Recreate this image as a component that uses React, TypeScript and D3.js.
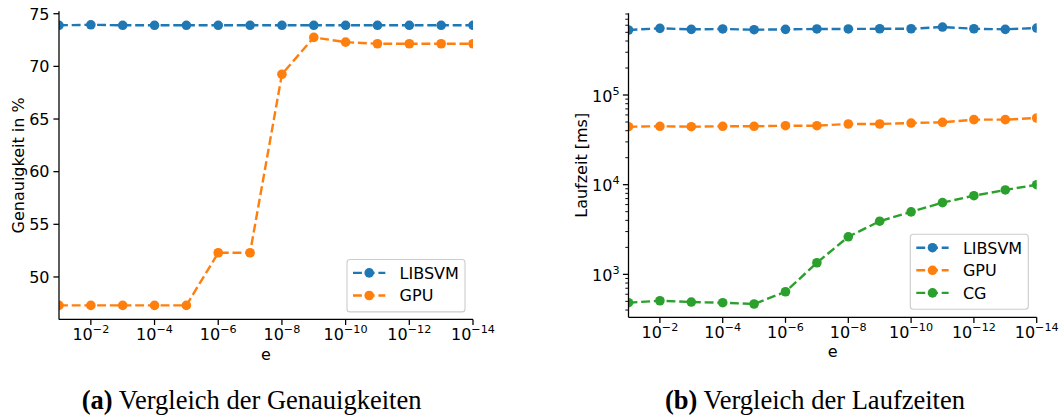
import * as d3 from 'd3';

// x values (tolerance e), one point per decade
const eValues = [1e-1, 1e-2, 1e-3, 1e-4, 1e-5, 1e-6, 1e-7, 1e-8, 1e-9, 1e-10, 1e-11, 1e-12, 1e-13, 1e-14];
const xTickExps = [-2, -4, -6, -8, -10, -12, -14];

// (a) accuracy in %
const accLibsvm = [73.9, 73.95, 73.9, 73.9, 73.9, 73.9, 73.9, 73.9, 73.9, 73.9, 73.9, 73.9, 73.9, 73.9];
const accGpu = [47.3, 47.3, 47.3, 47.3, 47.3, 52.3, 52.3, 69.25, 72.75, 72.3, 72.15, 72.15, 72.15, 72.15];
const accTicks = [50, 55, 60, 65, 70, 75];

// (b) runtime in ms
const timeLibsvm = [531000, 554000, 540000, 545000, 535000, 540000, 545000, 545000, 548000, 548000, 573000, 548000, 540000, 558000];
const timeGpu = [44300, 44800, 44300, 44800, 44800, 45500, 45500, 47500, 47500, 48700, 49600, 53100, 53100, 55400];
const timeCg = [483, 508, 491, 483, 467, 640, 1347, 2624, 3917, 4977, 6310, 7540, 8730, 10000];
const timeTickExps = [3, 4, 5];

const BLUE = '#1f77b4';
const ORANGE = '#ff7f0e';
const GREEN = '#2ca02c';
const FONT = 'DejaVu Sans';
const FS = 16;
const TICK = 5.6;
const MINOR = 3.2;
const AX = 1.28;
const DASH = '8.9 3.8';

type Series = { name: string; color: string; values: number[] };

function Pow({ x, y, exp, anchor }: { x: number; y: number; exp: number; anchor: string }) {
  return (
    <text x={x} y={y} textAnchor={anchor} fontFamily={FONT} fontSize={FS} fill="#000">
      10
      <tspan dy={-7} fontSize={11.2}>{exp < 0 ? '\u2212' + Math.abs(exp) : String(exp)}</tspan>
    </text>
  );
}

function Legend({ series, right, bottom }: { series: Series[]; right: number; bottom: number }) {
  const w = 118;
  const rowH = 22.6;
  const h = 52.4 + (series.length - 2) * rowH;
  const left = right - w;
  const top = bottom - h;
  return (
    <g>
      <rect x={left} y={top} width={w} height={h} rx={3} fill="rgba(255,255,255,0.8)" stroke="#cccccc" strokeWidth={1.1} />
      {series.map((s, i) => {
        const cy = top + 13.4 + i * rowH;
        return (
          <g key={s.name}>
            <line x1={left + 6} x2={left + 38.3} y1={cy} y2={cy} stroke={s.color} strokeWidth={2.4} strokeDasharray={DASH} />
            <circle cx={left + 22.2} cy={cy} r={4.8} fill={s.color} />
            <text x={left + 52.6} y={cy + 5.8} fontFamily={FONT} fontSize={FS} fill="#000">{s.name}</text>
          </g>
        );
      })}
    </g>
  );
}

function Lines({ series, x, y, clip }: { series: Series[]; x: d3.ScaleLogarithmic<number, number>; y: (v: number) => number; clip: string }) {
  return (
    <g clipPath={`url(#${clip})`}>
      {series.map((s) => {
        const line = d3.line<number>().x((_, i) => x(eValues[i])).y((v) => y(v));
        return (
          <g key={s.name}>
            <path d={line(s.values) || ''} fill="none" stroke={s.color} strokeWidth={2.4} strokeDasharray={DASH} />
            {s.values.map((v, i) => (
              <circle key={i} cx={x(eValues[i])} cy={y(v)} r={4.8} fill={s.color} />
            ))}
          </g>
        );
      })}
    </g>
  );
}

function XAxis({ x, y0 }: { x: d3.ScaleLogarithmic<number, number>; y0: number }) {
  const [r0, r1] = x.range();
  return (
    <g>
      <line x1={r0} x2={r1} y1={y0} y2={y0} stroke="#000" strokeWidth={AX} />
      {xTickExps.map((e) => {
        const px = x(Math.pow(10, e));
        return (
          <g key={e}>
            <line x1={px} x2={px} y1={y0} y2={y0 + TICK} stroke="#000" strokeWidth={AX} />
            <Pow x={px} y={y0 + 21} exp={e} anchor="middle" />
          </g>
        );
      })}
    </g>
  );
}

function AccuracyPanel() {
  const left = 59, right = 473, top = 11.3, bottom = 319.4;
  const x = d3.scaleLog().domain([1e-1, 1e-14]).range([left, right]);
  const y = d3.scaleLinear().domain([45.97, 75.23]).range([bottom, top]);
  const series: Series[] = [
    { name: 'LIBSVM', color: BLUE, values: accLibsvm },
    { name: 'GPU', color: ORANGE, values: accGpu },
  ];
  return (
    <g>
      <defs>
        <clipPath id="clipA">
          <rect x={left} y={top} width={right - left} height={bottom - top} />
        </clipPath>
      </defs>
      <Lines series={series} x={x} y={y} clip="clipA" />
      <line x1={left} x2={left} y1={top} y2={bottom} stroke="#000" strokeWidth={AX} />
      {accTicks.map((t) => (
        <g key={t}>
          <line x1={left - TICK} x2={left} y1={y(t)} y2={y(t)} stroke="#000" strokeWidth={AX} />
          <text x={left - 9.5} y={y(t) + 5.8} textAnchor="end" fontFamily={FONT} fontSize={FS}>{t}</text>
        </g>
      ))}
      <XAxis x={x} y0={bottom} />
      <text transform={`translate(23.5,${(top + bottom) / 2}) rotate(-90)`} textAnchor="middle" fontFamily={FONT} fontSize={FS}>Genauigkeit in %</text>
      <text x={(left + right) / 2} y={360} textAnchor="middle" fontFamily={FONT} fontSize={FS}>e</text>
      <Legend series={series} right={right - 8} bottom={bottom - 7.5} />
    </g>
  );
}

function RuntimePanel() {
  const left = 628.5, right = 1036.7, top = 13.3, bottom = 317.3;
  const x = d3.scaleLog().domain([1e-1, 1e-14]).range([left, right]);
  const y = d3.scaleLog().domain([332, 815000]).range([bottom, top]);
  const series: Series[] = [
    { name: 'LIBSVM', color: BLUE, values: timeLibsvm },
    { name: 'GPU', color: ORANGE, values: timeGpu },
    { name: 'CG', color: GREEN, values: timeCg },
  ];
  const [d0, d1] = y.domain();
  const minor = y.ticks().filter((t) => t >= d0 && t <= d1 && Math.abs(Math.log10(t) - Math.round(Math.log10(t))) > 1e-6);
  return (
    <g>
      <defs>
        <clipPath id="clipB">
          <rect x={left} y={top} width={right - left} height={bottom - top} />
        </clipPath>
      </defs>
      <Lines series={series} x={x} y={y} clip="clipB" />
      <line x1={left} x2={left} y1={top} y2={bottom} stroke="#000" strokeWidth={AX} />
      {minor.map((t, i) => (
        <line key={i} x1={left - MINOR} x2={left} y1={y(t)} y2={y(t)} stroke="#000" strokeWidth={0.96} />
      ))}
      {timeTickExps.map((e) => {
        const py = y(Math.pow(10, e));
        return (
          <g key={e}>
            <line x1={left - TICK} x2={left} y1={py} y2={py} stroke="#000" strokeWidth={AX} />
            <Pow x={left - 9} y={py + 6.5} exp={e} anchor="end" />
          </g>
        );
      })}
      <XAxis x={x} y0={bottom} />
      <text transform={`translate(587,${(top + bottom) / 2}) rotate(-90)`} textAnchor="middle" fontFamily={FONT} fontSize={FS}>Laufzeit [ms]</text>
      <text x={(left + right) / 2} y={357} textAnchor="middle" fontFamily={FONT} fontSize={FS}>e</text>
      <Legend series={series} right={right - 8.4} bottom={bottom - 8} />
    </g>
  );
}

export default function App() {
  return (
    <svg width={1059} height={415} style={{ position: 'absolute', left: 0, top: 0, background: '#fff' }}>
      <rect width={1059} height={415} fill="#fff" />
      <AccuracyPanel />
      <RuntimePanel />
      <text x={81.7} y={409} fontFamily="Liberation Serif" fontSize={26.5} fill="#000">
        <tspan fontWeight="bold">(a)</tspan> Vergleich der Genauigkeiten
      </text>
      <text x={665} y={409} fontFamily="Liberation Serif" fontSize={26.5} fill="#000">
        <tspan fontWeight="bold">(b)</tspan> Vergleich der Laufzeiten
      </text>
    </svg>
  );
}
